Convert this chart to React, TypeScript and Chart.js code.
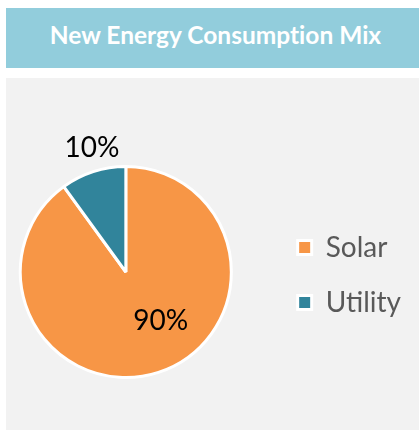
import React, { useEffect, useRef } from "react";
import { Chart, registerables } from "chart.js";

Chart.register(...registerables);

const TITLE = "New Energy Consumption Mix";
const categories: string[] = ["Solar", "Utility"];
const shares: number[] = [90, 10];
const sliceColors: string[] = ["#F79646", "#31849B"];
// label placement: fraction along slice angle, fraction of radius
const labelAngleFrac: number[] = [0.446, 0.575];
const labelRadiusFrac: number[] = [0.57, 1.22];

const FONT = "Lato, 'Open Sans', sans-serif";

const sliceLabelPlugin = {
  id: "sliceLabels",
  afterDatasetsDraw(chart: any) {
    const ctx = chart.ctx;
    const meta = chart.getDatasetMeta(0);
    const data = chart.data.datasets[0].data as number[];
    const total = data.reduce((a, b) => a + b, 0);
    meta.data.forEach((arc: any, i: number) => {
      const p = arc.getProps(["x", "y", "startAngle", "endAngle", "outerRadius"], true);
      const a = p.startAngle + (p.endAngle - p.startAngle) * labelAngleFrac[i];
      const r = p.outerRadius * labelRadiusFrac[i];
      ctx.save();
      ctx.font = `28px ${FONT}`;
      ctx.fillStyle = "#000000";
      ctx.textAlign = "center";
      ctx.textBaseline = "middle";
      ctx.fillText(`${Math.round((data[i] / total) * 100)}%`, p.x + Math.cos(a) * r, p.y + Math.sin(a) * r);
      ctx.restore();
    });
  },
};

export default function App() {
  const canvasRef = useRef<HTMLCanvasElement | null>(null);

  useEffect(() => {
    if (!canvasRef.current) return;
    const chart = new Chart(canvasRef.current, {
      type: "pie",
      data: {
        labels: categories,
        datasets: [
          {
            data: shares,
            backgroundColor: sliceColors,
            borderColor: "#FFFFFF",
            borderWidth: 3,
          },
        ],
      },
      options: {
        responsive: false,
        animation: false,
        layout: { padding: { left: 0, right: 0, top: 87, bottom: 51 } },
        plugins: {
          title: { display: false },
          tooltip: { enabled: false },
          legend: {
            position: "right",
            align: "center",
            title: { display: true, text: "", font: { size: 6, lineHeight: 1 }, padding: 0 },
            labels: {
              font: { family: FONT, size: 28 },
              color: "#595959",
              boxWidth: 14,
              boxHeight: 14,
              padding: 27,
            },
          },
        },
      },
      plugins: [sliceLabelPlugin],
    });
    return () => chart.destroy();
  }, []);

  return (
    <div style={{ position: "fixed", left: 0, top: 0, width: 419, height: 430, background: "#FFFFFF", overflow: "hidden" }}>
      <div
        style={{
          position: "absolute",
          left: 6,
          top: 8,
          width: 407,
          paddingLeft: 6,
          height: 60,
          background: "#92CDDC",
          color: "#FFFFFF",
          fontFamily: FONT,
          fontWeight: 700,
          fontSize: 24.5,
          fontVariantLigatures: "none",
          textAlign: "center",
          lineHeight: "54px",
        }}
      >
        {TITLE}
      </div>
      <div style={{ position: "absolute", left: 6, top: 78, width: 413, height: 352, background: "#F2F2F2", overflow: "hidden" }}>
        <canvas ref={canvasRef} width={430} height={352} style={{ display: "block", position: "absolute", left: -25, top: 0 }} />
      </div>
    </div>
  );
}
